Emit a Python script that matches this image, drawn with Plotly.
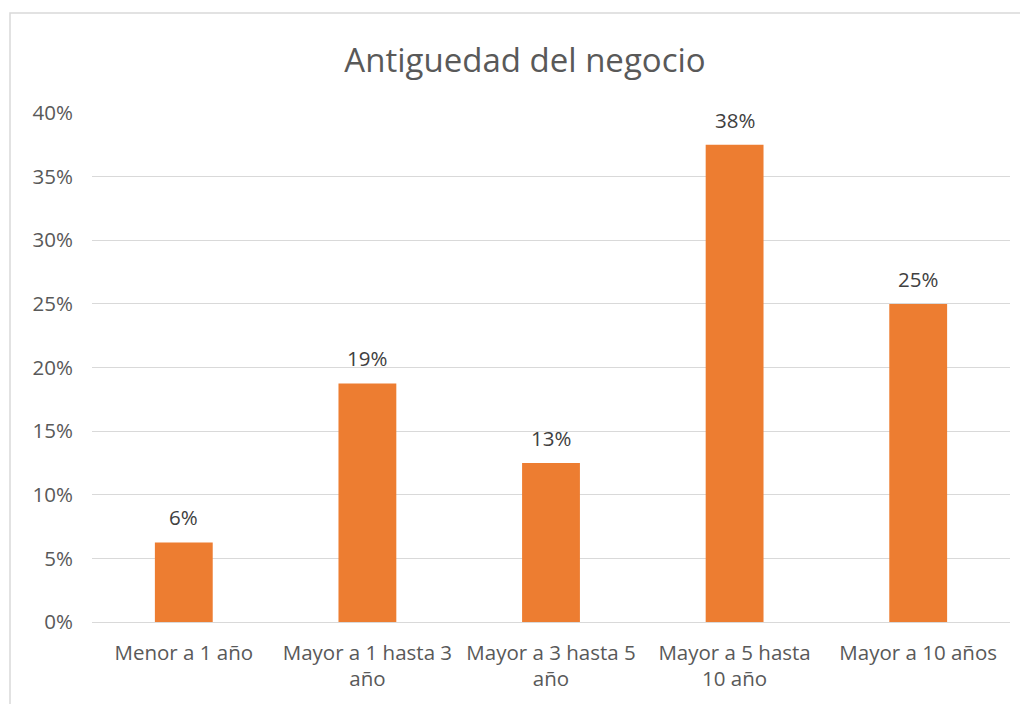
import plotly.graph_objects as go

categories = ["Menor a 1 año", "Mayor a 1 hasta 3<br>año", "Mayor a 3 hasta 5<br>año",
              "Mayor a 5 hasta<br>10 año", "Mayor a 10 años"]
values = [0.0625, 0.1875, 0.125, 0.375, 0.25]

OFF = 8  # page body margin
W, H = 1028 - OFF, 704 - OFF
# plot area in screen coords: x 92..1010, y 113..622
L, R, T, B = 92 - OFF, W - (1010 - OFF), 113 - OFF, H - (622 - OFF)
pw, ph = W - L - R, H - T - B

def px(x):
    return (x - OFF - L) / pw

def py(y):
    return (H - B - (y - OFF)) / ph

font = "Open Sans, Liberation Sans, sans-serif"
fs = 20.5

fig = go.Figure(go.Bar(
    x=categories, y=values,
    marker=dict(color="#ED7D31", line=dict(width=0)),
    cliponaxis=False,
))

annotations = [dict(x=c, y=v, xref="x", yref="y", text=f"{round(v * 100 + 1e-9):.0f}%",
                    showarrow=False, yanchor="middle", yshift=25,
                    font=dict(size=fs, color="#404040", family=font))
               for c, v in zip(categories, values)]

fig.update_layout(
    width=W, height=H,
    margin=dict(l=L, r=R, t=T, b=B),
    paper_bgcolor="white", plot_bgcolor="white",
    bargap=0.685,
    showlegend=False,
    title=dict(text="Antiguedad del negocio", x=(525 - OFF) / W, xanchor="center",
               y=1 - (60 - OFF) / H, yanchor="middle",
               font=dict(size=33, color="#595959", family=font)),
    font=dict(family=font, color="#595959"),
    annotations=annotations,
    yaxis=dict(range=[0, 0.40], dtick=0.05, tickformat=".0%",
               showgrid=True, gridcolor="#D9D9D9", gridwidth=1.3,
               zeroline=True, zerolinecolor="#D9D9D9", zerolinewidth=1.3,
               showline=False, ticks="", ticklen=0, ticklabelstandoff=18,
               tickfont=dict(size=fs, color="#595959", family=font)),
    xaxis=dict(showline=False, ticks="", ticklabelstandoff=16,
               tickfont=dict(size=fs, color="#595959", family=font)),
    shapes=[dict(type="rect", xref="paper", yref="paper",
                 x0=px(10), x1=px(1040), y0=py(720), y1=py(13),
                 line=dict(color="#D9D9D9", width=1.5), fillcolor="rgba(0,0,0,0)",
                 layer="below")],
)

fig.write_html("out.html")
